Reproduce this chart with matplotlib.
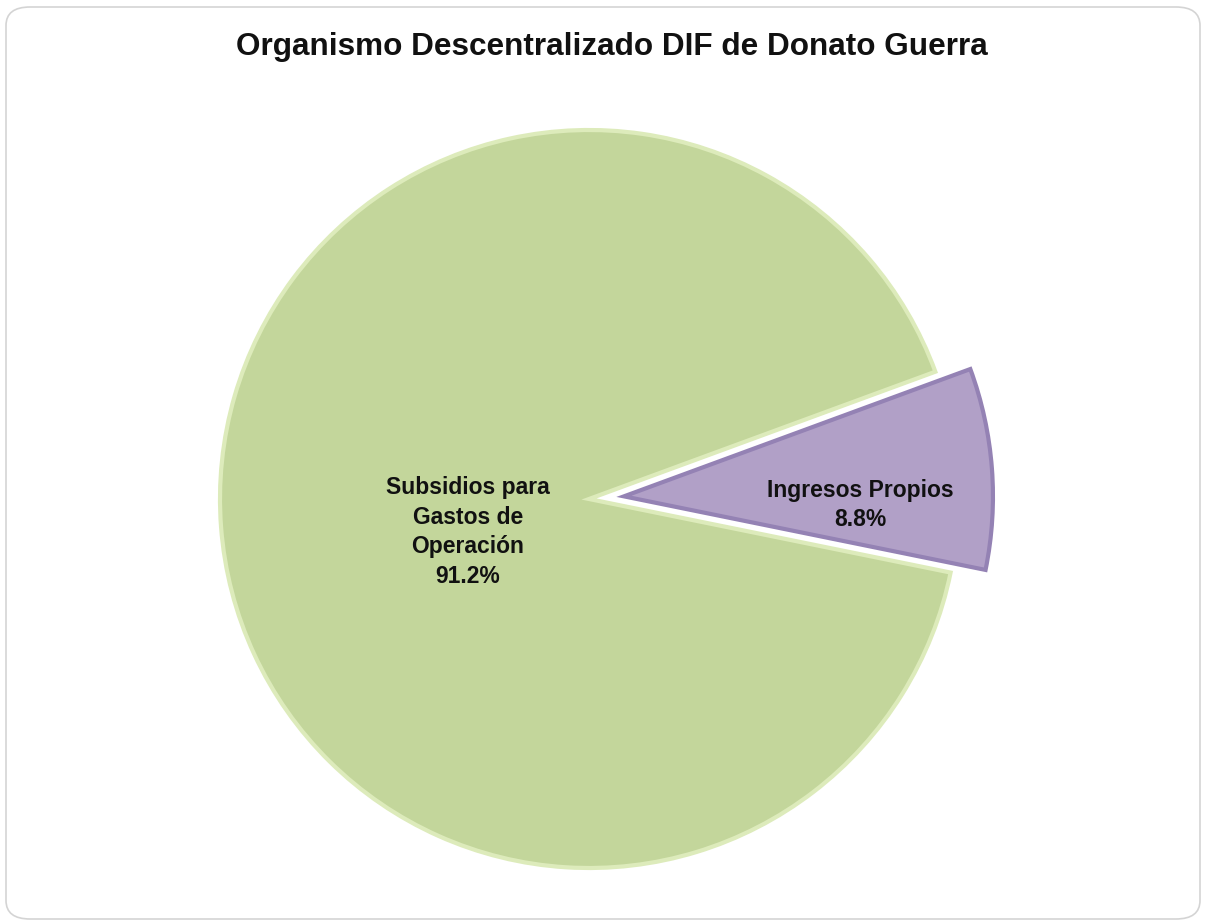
import numpy as np
import matplotlib.pyplot as plt
from matplotlib.patches import FancyBboxPatch

plt.rcParams['font.family'] = ['Liberation Sans', 'DejaVu Sans']

# data
categories = ['Ingresos Propios', 'Subsidios para\nGastos de\nOperación']
shares = [8.8, 91.2]
colors = ['#B1A0C7', '#C3D69B']
edges = ['#9482B4', '#DDEBBB']
explode = [0.095, 0.0]
title = 'Organismo Descentralizado DIF de Donato Guerra'

W, H = 1206, 924
fig = plt.figure(figsize=(W / 100, H / 100), dpi=100)
fig.patch.set_facecolor('white')

# rounded frame around the chart
frame = FancyBboxPatch((6 / W, 5 / H), 1194 / W, 912 / H,
                       boxstyle='round,pad=0,rounding_size=0.02',
                       transform=fig.transFigure, facecolor='white',
                       edgecolor='#D4D4D4', linewidth=1.2, zorder=-10)
fig.patches.append(frame)

# pie placement in pixels
cx, cy, rpx = 589, 499, 369
xl, yl = 1.5, 1.18
ax = fig.add_axes([(cx - xl * rpx) / W, (H - cy - yl * rpx) / H,
                   2 * xl * rpx / W, 2 * yl * rpx / H])
ax.set_zorder(5)

wedges, _ = ax.pie(shares, colors=colors, explode=explode,
                   startangle=-11.5, counterclock=True, radius=1.0,
                   wedgeprops=dict(linewidth=3))
for w, ec in zip(wedges, edges):
    w.set_edgecolor(ec)
ax.set_aspect('auto')
ax.set_xlim(-xl, xl)
ax.set_ylim(-yl, yl)
ax.axis('off')

# labels
label_r = [0.64, 0.34]
label_da = [-6.4, 11]
for w, cat, s, r, da, ex in zip(wedges, categories, shares, label_r, label_da, explode):
    mid = np.deg2rad((w.theta1 + w.theta2) / 2)
    ang = mid + np.deg2rad(da)
    x = ex * np.cos(mid) + r * np.cos(ang)
    y = ex * np.sin(mid) + r * np.sin(ang)
    ax.text(x, y, f'{cat}\n{s:.1f}%', ha='center', va='center',
            fontsize=16.5, fontweight='bold', color='#111111', linespacing=1.36)

fig.text(0.507, 1 - 47 / H, title, ha='center', va='center',
         fontsize=22.7, fontweight='bold', color='#111111')

fig.savefig('out.png', dpi=100, facecolor='white')
